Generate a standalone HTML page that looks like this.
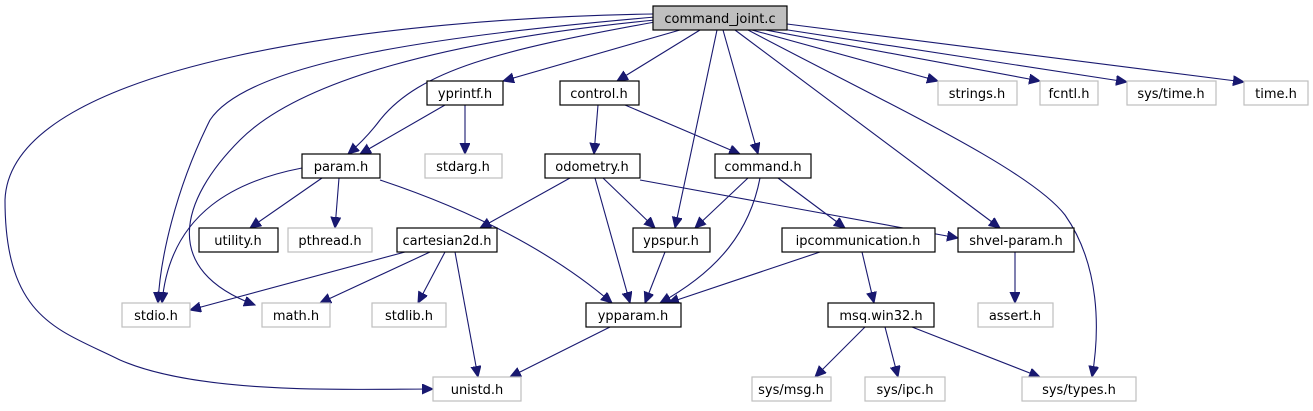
<!DOCTYPE html>
<html><head><meta charset="utf-8"><style>
html,body{margin:0;padding:0;background:#fff;}
svg{display:block}
text{font-family:"DejaVu Sans","Liberation Sans",sans-serif;font-size:13px;fill:#000;text-anchor:middle}
.e{fill:none;stroke:#191970;stroke-width:1.1}
.n{fill:#fff;stroke:#000;stroke-width:1.2}
.g{fill:#fff;stroke:#bfbfbf;stroke-width:1.2}
</style></head><body>
<svg width="1313" height="411" viewBox="0 0 1313 411" xmlns="http://www.w3.org/2000/svg">
<defs><marker id="a" markerUnits="userSpaceOnUse" markerWidth="14" markerHeight="12" refX="11" refY="5" orient="auto"><path d="M0,0 L11,5 L0,10 z" fill="#191970" stroke="#191970"/></marker></defs>
<g marker-end="url(#a)">
<path class="e" d="M653,14 C400,18 10,60 5,200 C5,320 60,330 120,360 C200,395 350,389 433,389"/>
<path class="e" d="M655,17 C450,35 250,60 210,120 C175,190 160,260 158,303"/>
<path class="e" d="M655,20 C450,40 300,80 240,140 C180,200 160,270 255,305"/>
<path class="e" d="M655,22 C500,50 420,70 380,120 C368,136 355,148 348,154"/>
<path class="e" d="M680,30 L503,81"/>
<path class="e" d="M700,30 L617,81"/>
<path class="e" d="M717,30 L675,228"/>
<path class="e" d="M723,30 L758,154"/>
<path class="e" d="M735,30 L1000,228"/>
<path class="e" d="M748,30 C900,110 1030,170 1065,215 C1100,265 1100,330 1092,377"/>
<path class="e" d="M752,30 L938,81"/>
<path class="e" d="M760,29 L1040,81"/>
<path class="e" d="M775,28 L1127,82"/>
<path class="e" d="M787,24 L1244,82"/>
<path class="e" d="M445,105 L360,154"/>
<path class="e" d="M465,105 L465,154"/>
<path class="e" d="M598,105 L594,154"/>
<path class="e" d="M625,105 L740,154"/>
<path class="e" d="M302,168 C240,180 170,210 162,303"/>
<path class="e" d="M322,178 L250,228"/>
<path class="e" d="M339,178 L335,228"/>
<path class="e" d="M380,180 C470,210 550,250 612,303"/>
<path class="e" d="M570,178 L480,228"/>
<path class="e" d="M603,178 L655,228"/>
<path class="e" d="M595,178 L630,303"/>
<path class="e" d="M640,180 L958,238"/>
<path class="e" d="M748,178 L695,228"/>
<path class="e" d="M760,178 C750,230 720,270 660,303"/>
<path class="e" d="M778,178 L845,228"/>
<path class="e" d="M405,252 L190,310"/>
<path class="e" d="M430,252 L320,303"/>
<path class="e" d="M445,252 L418,303"/>
<path class="e" d="M455,252 L478,377"/>
<path class="e" d="M665,252 L645,303"/>
<path class="e" d="M820,252 L668,303"/>
<path class="e" d="M862,252 L874,303"/>
<path class="e" d="M1015,252 L1015,303"/>
<path class="e" d="M610,327 L510,377"/>
<path class="e" d="M865,327 L815,377"/>
<path class="e" d="M885,327 L898,377"/>
<path class="e" d="M912,327 L1040,377"/>
</g>
<rect x="653" y="6" width="134" height="24" fill="#bfbfbf" stroke="#000" stroke-width="1.2"/><text x="720" y="23">command_joint.c</text>
<rect class="n" x="427" y="81" width="76" height="24"/><text x="465" y="98">yprintf.h</text>
<rect class="n" x="560" y="81" width="79" height="24"/><text x="599" y="98">control.h</text>
<rect class="g" x="938" y="81" width="79" height="24"/><text x="977" y="98">strings.h</text>
<rect class="g" x="1040" y="81" width="58" height="24"/><text x="1069" y="98">fcntl.h</text>
<rect class="g" x="1127" y="81" width="89" height="24"/><text x="1171" y="98">sys/time.h</text>
<rect class="g" x="1244" y="81" width="64" height="24"/><text x="1276" y="98">time.h</text>
<rect class="n" x="302" y="154" width="78" height="24"/><text x="341" y="171">param.h</text>
<rect class="g" x="425" y="154" width="77" height="24"/><text x="463" y="171">stdarg.h</text>
<rect class="n" x="545" y="154" width="95" height="24"/><text x="592" y="171">odometry.h</text>
<rect class="n" x="715" y="154" width="96" height="24"/><text x="763" y="171">command.h</text>
<rect class="n" x="199" y="228" width="79" height="24"/><text x="238" y="245">utility.h</text>
<rect class="g" x="288" y="228" width="84" height="24"/><text x="330" y="245">pthread.h</text>
<rect class="n" x="397" y="228" width="100" height="24"/><text x="447" y="245">cartesian2d.h</text>
<rect class="n" x="633" y="228" width="77" height="24"/><text x="671" y="245">ypspur.h</text>
<rect class="n" x="782" y="228" width="153" height="24"/><text x="858" y="245">ipcommunication.h</text>
<rect class="n" x="958" y="228" width="116" height="24"/><text x="1016" y="245">shvel-param.h</text>
<rect class="g" x="122" y="303" width="68" height="24"/><text x="156" y="320">stdio.h</text>
<rect class="g" x="262" y="303" width="68" height="24"/><text x="296" y="320">math.h</text>
<rect class="g" x="372" y="303" width="74" height="24"/><text x="409" y="320">stdlib.h</text>
<rect class="n" x="586" y="303" width="95" height="24"/><text x="633" y="320">ypparam.h</text>
<rect class="n" x="828" y="303" width="106" height="24"/><text x="881" y="320">msq.win32.h</text>
<rect class="g" x="978" y="303" width="75" height="24"/><text x="1015" y="320">assert.h</text>
<rect class="g" x="433" y="377" width="88" height="24"/><text x="477" y="394">unistd.h</text>
<rect class="g" x="752" y="377" width="79" height="24"/><text x="791" y="394">sys/msg.h</text>
<rect class="g" x="865" y="377" width="80" height="24"/><text x="905" y="394">sys/ipc.h</text>
<rect class="g" x="1022" y="377" width="114" height="24"/><text x="1079" y="394">sys/types.h</text>
</svg>
</body></html>
